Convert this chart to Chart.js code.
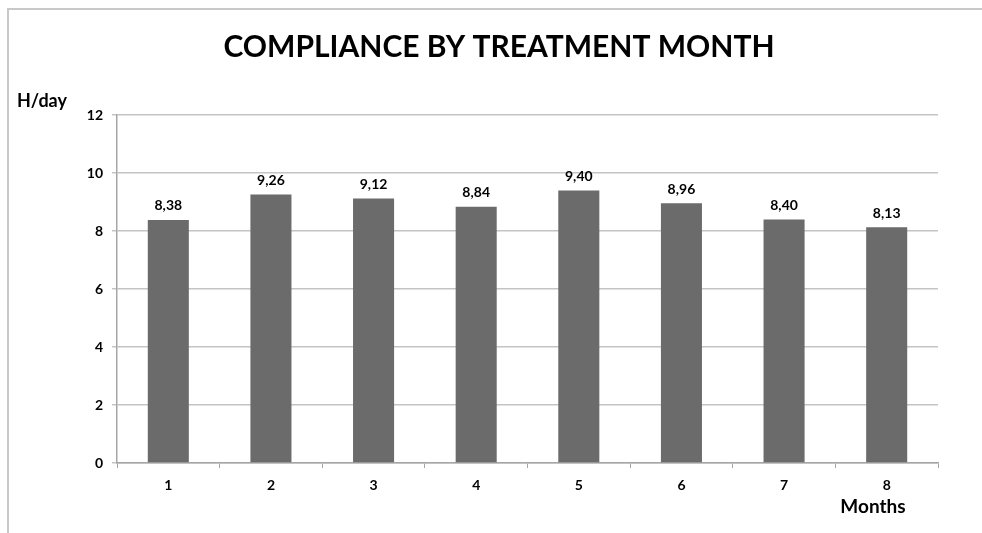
<!DOCTYPE html>
<html>
<head>
<meta charset="utf-8">
<script src="https://cdn.jsdelivr.net/npm/chart.js"></script>
<style>
    html, body { margin: 0; padding: 0; background: #fff; }
    #wrap { width: 982px; height: 533px; }
</style>
</head>
<body>
<div id="wrap"><canvas id="complianceChart" width="982" height="533"></canvas></div>
<script>
// Podatki grafa
const months = ['1', '2', '3', '4', '5', '6', '7', '8'];
const hoursPerDay = [8.38, 9.26, 9.12, 8.84, 9.40, 8.96, 8.40, 8.13];
const yTicks = [0, 2, 4, 6, 8, 10, 12];

const chartTitle = 'COMPLIANCE BY TREATMENT MONTH';
const yAxisTitle = 'H/day';
const xAxisTitle = 'Months';

const fontFamily = 'Lato, "Open Sans", sans-serif';

// Okvir, naslovi in oznake vrednosti
const extrasPlugin = {
    id: 'extras',
    afterDraw(chart) {
        const ctx = chart.ctx;
        ctx.save();

        // okvir (samo levo in zgoraj)
        ctx.strokeStyle = '#c8c8c8';
        ctx.lineWidth = 2;
        ctx.beginPath();
        ctx.moveTo(8, 533);
        ctx.lineTo(8, 9);
        ctx.lineTo(982, 9);
        ctx.stroke();

        ctx.fillStyle = '#000';
        ctx.textAlign = 'center';
        ctx.textBaseline = 'middle';

        ctx.font = 'bold 30px ' + fontFamily;
        ctx.fillText(chartTitle, 499, 47);

        ctx.font = 'bold 18px ' + fontFamily;
        ctx.textAlign = 'left';
        ctx.fillText(yAxisTitle, 17, 101);

        ctx.font = 'bold 19px ' + fontFamily;
        ctx.textAlign = 'center';
        ctx.fillText(xAxisTitle, 873, 507);

        // vrednosti nad stolpci
        ctx.font = 'bold 14px ' + fontFamily;
        const meta = chart.getDatasetMeta(0);
        meta.data.forEach((bar, i) => {
            ctx.fillText(hoursPerDay[i].toFixed(2).replace('.', ','), bar.x, bar.y - 14);
        });
        ctx.restore();
    }
};

const ctx = document.getElementById('complianceChart').getContext('2d');
new Chart(ctx, {
    type: 'bar',
    data: {
        labels: months,
        datasets: [{
            data: hoursPerDay,
            backgroundColor: '#6b6b6b',
            borderWidth: 0,
            categoryPercentage: 1,
            barPercentage: 0.4
        }]
    },
    options: {
        responsive: false,
        animation: false,
        layout: { padding: { top: 115, right: 44, left: 0, bottom: 0 } },
        plugins: {
            legend: { display: false },
            title: { display: false },
            tooltip: { enabled: false }
        },
        scales: {
            x: {
                afterFit(scale) { scale.height = 70; },
                grid: {
                    offset: true,
                    drawOnChartArea: false,
                    drawTicks: true,
                    tickLength: 5,
                    color: '#a6a6a6'
                },
                border: { color: '#a6a6a6', width: 1.5 },
                ticks: {
                    padding: 9,
                    color: '#000',
                    font: { family: fontFamily, size: 14, weight: 'bold' }
                }
            },
            y: {
                min: 0,
                max: 12,
                afterFit(scale) { scale.width = 117; },
                afterBuildTicks(scale) { scale.ticks = yTicks.map(v => ({ value: v })); },
                grid: {
                    color: '#c4c4c4',
                    lineWidth: 1.5,
                    tickLength: 5
                },
                border: { color: '#a6a6a6', width: 1.5 },
                ticks: {
                    padding: 9,
                    color: '#000',
                    font: { family: fontFamily, size: 14, weight: 'bold' }
                }
            }
        }
    },
    plugins: [extrasPlugin]
});
</script>
</body>
</html>
